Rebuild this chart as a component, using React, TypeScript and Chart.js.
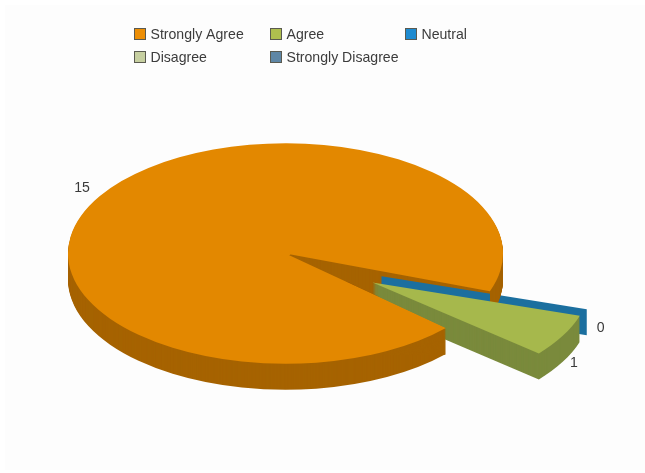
import React, { useEffect, useRef } from "react";
import { Chart, registerables } from "chart.js";

Chart.register(...registerables);

// Survey responses per answer.
const categories = ["Strongly Agree", "Agree", "Neutral", "Disagree", "Strongly Disagree"];
const responses = [15, 1, 0, 0, 0];
const sliceLabels = ["15", "1", "0"];

const topColors = ["#E38800", "#A6B84C", "#1B6F9F", "#C6CFA0", "#5F87A6"];
const wallColors = ["#A66300", "#7A8A3C", "#1B6F9F", "#93996F", "#46647B"];
const swatchColors = ["#EC8E05", "#AEBE4E", "#1F8BD0", "#C6CFA0", "#5F87A6"];

const FONT = '14.1px "Liberation Sans", Arial, sans-serif';
const TILT = 0.507;
const DEPTH = 26;
const TWIST = (2.4 * Math.PI) / 180;
// Pulled-out slices: shift in the pie's own plane, keyed by slice index.
const pulled: Record<number, [number, number]> = { 1: [87, -57], 2: [96, -45] };
const labelShift: [number, number][] = [[3, -2], [-10, 22], [-11, 15]];
const legendCols = [134, 270, 405];
const legendRows = [28, 51];

// Maps the flat pie onto a tilted, mirrored plane so it runs anticlockwise.
function applyPlane(ctx: CanvasRenderingContext2D, arc: any, drop: number, index: number) {
  const [sx, sy] = pulled[index] ?? [0, 0];
  ctx.translate(arc.x + sx, arc.y + drop - sy * TILT);
  ctx.scale(1, -TILT);
  if (pulled[index]) ctx.rotate(TWIST);
  ctx.translate(-arc.x, -arc.y);
}

function paintSlice(ctx: CanvasRenderingContext2D, arc: any, index: number, color: string, drop: number) {
  const saved = arc.options;
  arc.options = { ...saved, backgroundColor: color, borderWidth: 0 };
  ctx.save();
  applyPlane(ctx, arc, drop, index);
  arc.draw(ctx);
  ctx.restore();
  arc.options = saved;
}

function extrude(ctx: CanvasRenderingContext2D, arc: any, index: number) {
  for (let d = DEPTH; d >= 1; d--) paintSlice(ctx, arc, index, wallColors[index], d);
}

function screenPoint(arc: any, angle: number, radius: number, index: number) {
  const [sx, sy] = pulled[index] ?? [0, 0];
  const a = pulled[index] ? angle + TWIST : angle;
  return {
    x: arc.x + sx + Math.cos(a) * radius,
    y: arc.y - (sy + Math.sin(a) * radius) * TILT,
  };
}

const tiltedPie = {
  id: "tiltedPie",
  beforeDatasetsDraw(chart: any) {
    const { ctx } = chart;
    const arcs = chart.getDatasetMeta(0).data;
    const main = arcs[0];
    const wedge = arcs[1];
    const cut = arcs[2];

    ctx.save();
    ctx.fillStyle = "#FFFFFF";
    ctx.fillRect(0, 0, chart.width, chart.height);
    ctx.fillStyle = "#FDFDFD";
    ctx.fillRect(5, 5, chart.width - 5, chart.height - 8);

    extrude(ctx, main, 0);

    // The zero slice has no area, only its cut face.
    const from = screenPoint(cut, cut.startAngle, 0, 2);
    const to = screenPoint(cut, cut.startAngle, cut.outerRadius * 0.99, 2);
    ctx.fillStyle = wallColors[2];
    ctx.beginPath();
    ctx.moveTo(from.x, from.y);
    ctx.lineTo(to.x, to.y);
    ctx.lineTo(to.x, to.y + DEPTH);
    ctx.lineTo(from.x, from.y + DEPTH);
    ctx.closePath();
    ctx.fill();

    // Rim of the big slice passes in front of the cut face.
    const rimEdge = screenPoint(main, main.startAngle, main.outerRadius, 0);
    ctx.save();
    ctx.beginPath();
    ctx.rect(Math.round(rimEdge.x), 0, chart.width, chart.height);
    ctx.clip();
    extrude(ctx, main, 0);
    ctx.restore();

    paintSlice(ctx, main, 0, topColors[0], 0);

    extrude(ctx, wedge, 1);
    paintSlice(ctx, wedge, 1, topColors[1], 0);

    // Near rim of the big slice overlaps the pulled-out wedge; the clip starts
    // a little past the centre, on the slice's own near edge, to stay seamless.
    const apex = screenPoint(main, 0, 0, 0);
    const corner = screenPoint(main, main.endAngle, main.outerRadius, 0);
    const startX = Math.round(apex.x + 60);
    const startY = apex.y + ((corner.y - apex.y) * (startX - apex.x)) / (corner.x - apex.x);
    ctx.save();
    ctx.beginPath();
    ctx.moveTo(startX, startY);
    ctx.lineTo(Math.round(corner.x), corner.y);
    ctx.lineTo(Math.round(corner.x), corner.y + DEPTH + 1);
    ctx.lineTo(startX, corner.y + DEPTH + 1);
    ctx.closePath();
    ctx.clip();
    extrude(ctx, main, 0);
    paintSlice(ctx, main, 0, topColors[0], 0);
    ctx.restore();

    // The cut's tip stops just short of the pie's middle.
    ctx.fillStyle = topColors[0];
    ctx.beginPath();
    ctx.ellipse(apex.x, apex.y, 5, 3, 0, 0, Math.PI * 2);
    ctx.fill();

    // Value labels sit just outside each slice.
    ctx.font = FONT;
    ctx.fillStyle = "#3A3A3A";
    ctx.textAlign = "center";
    ctx.textBaseline = "middle";
    sliceLabels.forEach((text, i) => {
      const arc = arcs[i];
      const mid = i === 2 ? arc.startAngle : (arc.startAngle + arc.endAngle) / 2;
      const p = screenPoint(arc, mid, arc.outerRadius * 1.11, i);
      ctx.fillText(text, p.x + labelShift[i][0], p.y + labelShift[i][1]);
    });

    // Legend laid out on a fixed three-column grid.
    ctx.textAlign = "left";
    categories.forEach((name, i) => {
      const x = legendCols[i % 3];
      const y = legendRows[Math.floor(i / 3)];
      ctx.fillStyle = swatchColors[i];
      ctx.fillRect(x, y, 12, 12);
      ctx.strokeStyle = "#5A5A50";
      ctx.lineWidth = 1;
      ctx.strokeRect(x + 0.5, y + 0.5, 11, 11);
      ctx.fillStyle = "#3C3C3C";
      ctx.fillText(name, x + 16.5, y + 7.5);
    });
    ctx.restore();
    return false;
  },
};

export default function App() {
  const ref = useRef<HTMLCanvasElement>(null);
  useEffect(() => {
    const chart = new Chart(ref.current!, {
      type: "pie",
      data: {
        labels: categories,
        datasets: [{ data: responses, backgroundColor: topColors, borderWidth: 0 }],
      },
      options: {
        animation: false,
        responsive: false,
        rotation: 70,
        layout: { padding: { left: 68, right: 142, top: 36, bottom: 2 } },
        plugins: { legend: { display: false }, tooltip: { enabled: false } },
      },
      plugins: [tiltedPie],
    } as any);
    return () => chart.destroy();
  }, []);
  return (
    <div style={{ position: "fixed", left: 0, top: 0 }}>
      <canvas ref={ref} width={645} height={473} style={{ display: "block" }} />
    </div>
  );
}
